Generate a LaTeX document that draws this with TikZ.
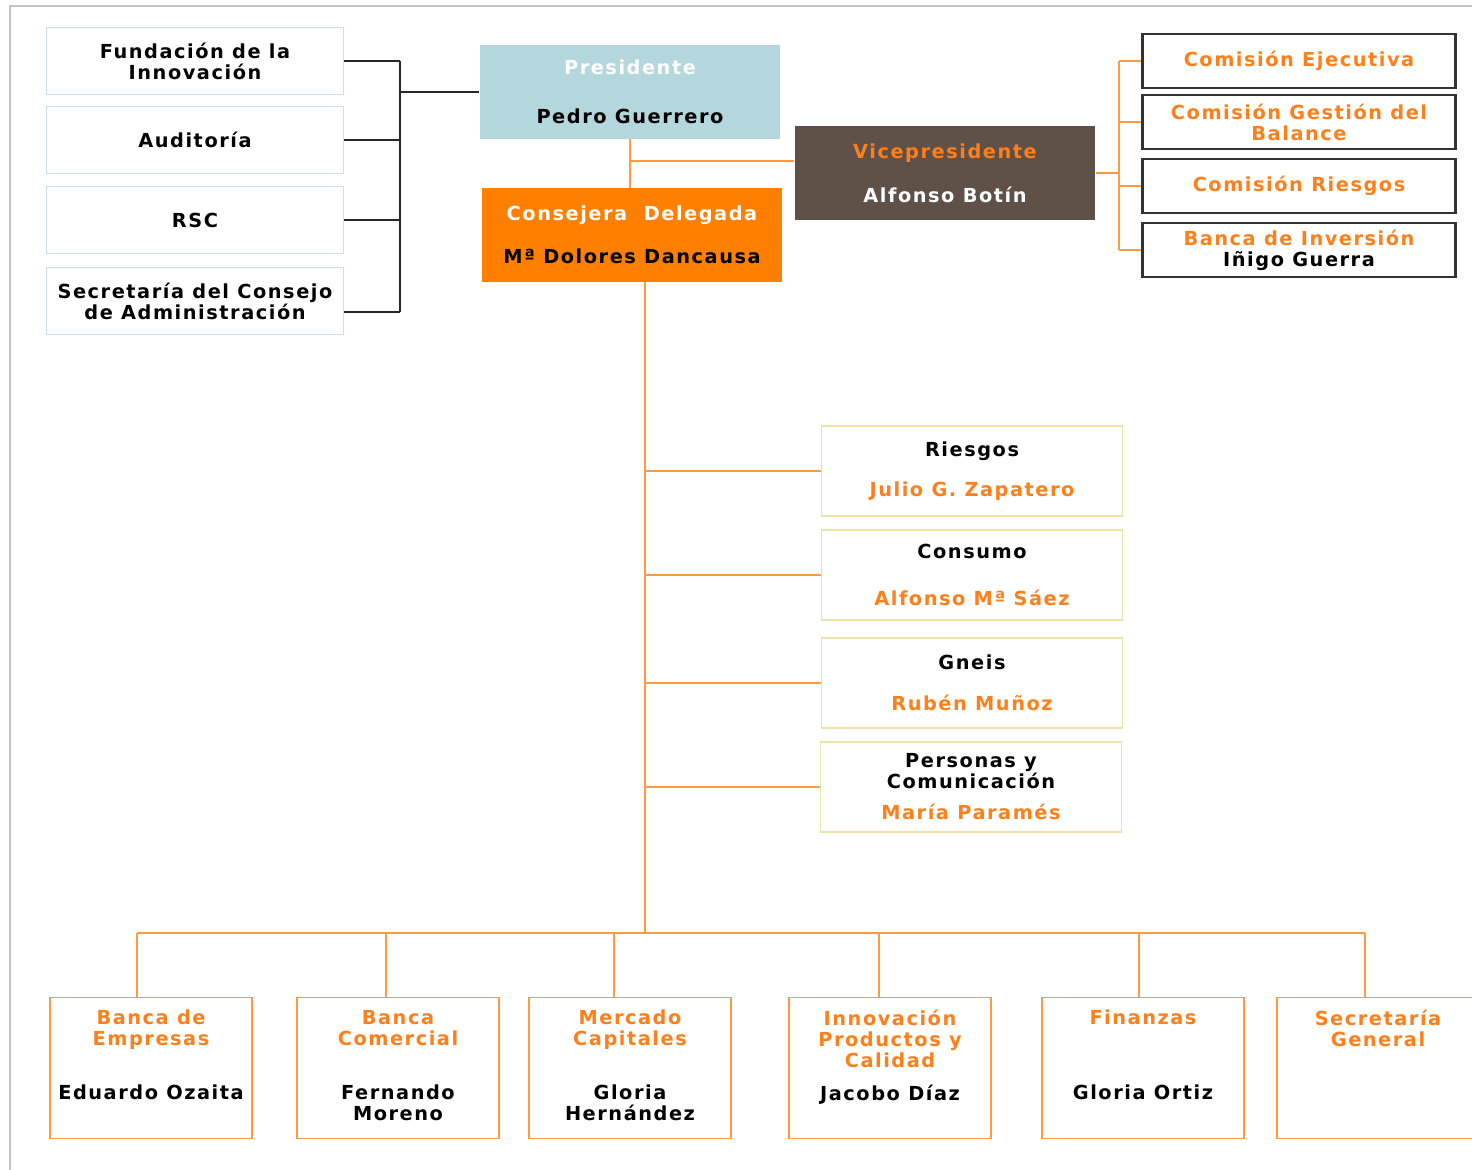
\documentclass[tikz,border=0pt]{standalone}
\usepackage{fontspec}
\setmainfont{DejaVu Sans}[LetterSpace=8]
\usepackage{tikz}
\usetikzlibrary{positioning}

\definecolor{sideblue}{HTML}{C5E3EA}
\definecolor{presblue}{HTML}{B4D7DD}
\definecolor{vicebrown}{HTML}{5F5048}
\definecolor{consorange}{HTML}{FF8000}
\definecolor{lineorange}{HTML}{FF9A40}
\definecolor{txtorange}{HTML}{FF7F1A}
\definecolor{areayellow}{HTML}{ECE3A6}
\definecolor{framegray}{HTML}{C4C4C4}

\begin{document}
\begin{tikzpicture}[
  x=0.02cm, y=-0.02cm,
  font=\fontsize{11}{12}\selectfont\bfseries,
  side/.style={rectangle, draw=sideblue, line width=1pt, minimum width=5.94cm, minimum height=1.34cm, align=center, inner sep=1pt},
  head/.style={rectangle, minimum width=6.02cm, minimum height=1.88cm, align=center},
  com/.style={rectangle, draw=black!80, line width=1.3pt, minimum width=6.26cm, minimum height=1.08cm, align=center, text=txtorange, inner sep=1pt},
  area/.style={rectangle, draw=areayellow, line width=1pt, minimum width=6.02cm, minimum height=1.8cm, align=center},
  unit/.style={rectangle, draw=lineorange, line width=1pt, minimum width=4.04cm, minimum height=2.82cm},
  ttl/.style={text=txtorange, align=center, inner sep=0pt},
  nme/.style={align=center, inner sep=0pt},
  blk/.style={draw=black!85, line width=1pt},
  org/.style={draw=lineorange, line width=1pt},
]
\useasboundingbox (0,0) rectangle (1472,1170);
\clip (0,0) rectangle (1472,1170);
\draw[framegray, line width=1pt] (10,1170) -- (10,6) -- (1472,6);

%% Board side units
\node[side] (fund)  at (195,61)  {Fundación de la\\Innovación};
\node[side] (audit) at (195,140) {Auditoría};
\node[side] (rsc)   at (195,220) {RSC};
\node[side] (secc)  at (195,301) {Secretaría del Consejo\\de Administración};

%% Top management
\node[head, fill=presblue]   (pres) at (630,92)  {{\color{white}Presidente}\\[15.8pt]Pedro Guerrero};
\node[head, fill=vicebrown]  (vice) at (945,173) {{\color{txtorange}Vicepresidente}\\[13pt]{\color{white}Alfonso Botín}};
\node[head, fill=consorange] (cons) at (632,235) {{\color{white}Consejera\ \ Delegada}\\[12.4pt]Mª Dolores Dancausa};

%% Committees
\node[com] (ce) at (1299,61)  {Comisión Ejecutiva};
\node[com] (cg) at (1299,122) {Comisión Gestión del\\Balance};
\node[com] (cr) at (1299,186) {Comisión Riesgos};
\node[com] (bi) at (1299,250) {Banca de Inversión\\{\color{black}Iñigo Guerra}};

%% Areas
\node[area] (ries) at (972,471) {Riesgos\\[10.7pt]{\color{txtorange}Julio G. Zapatero}};
\node[area] (cmo)  at (972,575) {Consumo\\[15.2pt]{\color{txtorange}Alfonso Mª Sáez}};
\node[area] (gne)  at (972,683) {Gneis\\[11.2pt]{\color{txtorange}Rubén Muñoz}};
\node[area] (pers) at (971,787) {Personas y\\Comunicación\\[5.6pt]{\color{txtorange}María Paramés}};

%% Business units
\node[unit] (be) at (151,1068)  {};
\node[unit] (bc) at (398,1068)  {};
\node[unit] (mc) at (630,1068)  {};
\node[unit] (ip) at (890,1068)  {};
\node[unit] (fi) at (1143,1068) {};
\node[unit] (sg) at (1378,1068) {};

\node[ttl, below=0.26cm of be.north] (bet) {Banca de\\Empresas};
\node[ttl, below=0.26cm of bc.north] (bct) {Banca\\Comercial};
\node[ttl, below=0.26cm of mc.north] (mct) {Mercado\\Capitales};
\node[ttl, below=0.26cm of ip.north] (ipt) {Innovación\\Productos y\\Calidad};
\node[ttl, below=0.26cm of fi.north] (fit) {Finanzas};
\node[ttl, below=0.26cm of sg.north] (sgt) {Secretaría\\General};

\node[nme, below=1.76cm of be.north] (ben) {Eduardo Ozaita};
\node[nme, below=1.76cm of bc.north] (bcn) {Fernando\\Moreno};
\node[nme, below=1.76cm of mc.north] (mcn) {Gloria\\Hernández};
\node[nme, below=1.76cm of ip.north] (ipn) {Jacobo Díaz};
\node[nme, below=1.76cm of fi.north] (fin) {Gloria Ortiz};

%% Connector points
\coordinate (lb) at (400,0);
\coordinate (rb) at (1119,0);
\coordinate (trunk) at (645,933);
\coordinate (d1) at (137,933);
\coordinate (d2) at (386,933);
\coordinate (d3) at (614,933);
\coordinate (d4) at (879,933);
\coordinate (d5) at (1139,933);
\coordinate (d6) at (1365,933);

%% Board side relations
\foreach \n in {fund,audit,rsc}
  \draw[blk] (\n.east) -- (\n.east -| lb);
\draw[blk] ([yshift=-0.22cm]secc.east) -- ([yshift=-0.22cm]secc.east -| lb);
\draw[blk] (fund.east -| lb) -- ([yshift=-0.22cm]secc.east -| lb);
\draw[blk] (pres.west) -- (pres.west -| lb);

%% Top relations
\draw[org] (pres.south) -- (pres.south |- cons.north);
\draw[org] ([yshift=0.24cm]vice.west -| pres.south) -- ([yshift=0.24cm]vice.west);

%% Committee relations
\draw[org] (vice.east) -- (vice.east -| rb);
\draw[org] (ce.west -| rb) -- (bi.west -| rb);
\foreach \n in {ce,cg,cr,bi}
  \draw[org] (\n.west -| rb) -- (\n.west);

%% Area relations
\draw[org] (cons.south -| trunk) -- (trunk);
\foreach \n in {ries,cmo,gne,pers}
  \draw[org] (\n.west -| trunk) -- (\n.west);

%% Business unit relations
\draw[org] (d1) -- (d6);
\foreach \d/\n in {d1/be,d2/bc,d3/mc,d4/ip,d5/fi,d6/sg}
  \draw[org] (\d) -- (\d |- \n.north);
\end{tikzpicture}
\end{document}
